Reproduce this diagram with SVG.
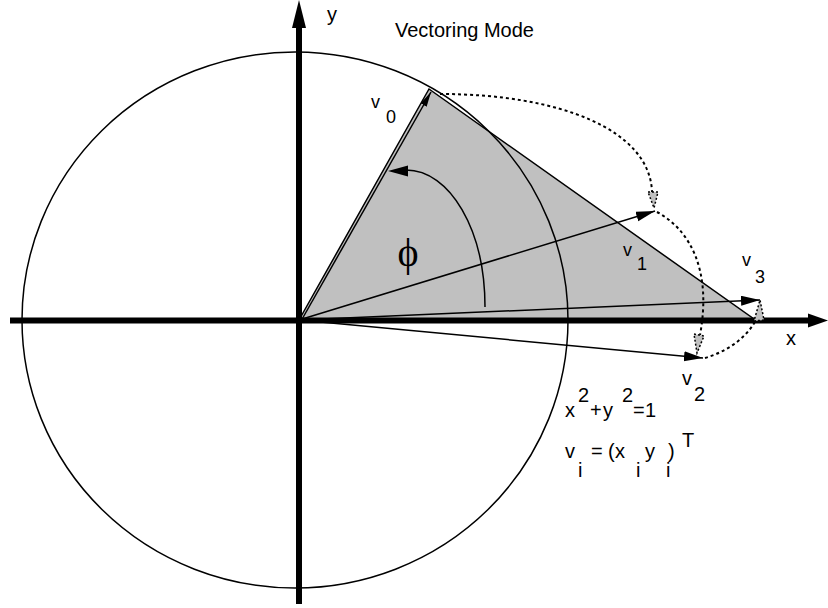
<svg xmlns="http://www.w3.org/2000/svg" width="828" height="608" viewBox="0 0 828 608">
<style>
text{font-family:"Liberation Sans",Arial,sans-serif;fill:#000}
.lbl{font-size:18px}
.eq{font-size:20px}
.vec{stroke:#000;stroke-width:1.5;fill:none}
.dot{stroke:#000;stroke-width:2;fill:none;stroke-dasharray:3 3}
.dhead{fill:#c0c0c0;stroke:#000;stroke-width:1.5;stroke-dasharray:2 2}
.axis{stroke:#000;stroke-width:6;fill:none}
</style>
<defs>
<marker id="ah" markerUnits="userSpaceOnUse" markerWidth="20" markerHeight="12" refX="19" refY="5" orient="auto">
<path d="M0,0 L19,5 L0,10 z" fill="#000"/>
</marker>
<marker id="ah0" markerUnits="userSpaceOnUse" markerWidth="16" markerHeight="8" refX="15" refY="3.5" orient="auto">
<path d="M0,0 L15,3.5 L0,7 z" fill="#000"/>
</marker>
</defs>
<rect width="828" height="608" fill="#fff"/>

<g id="triangle">
<polygon points="299,320 429,89 754,319" fill="#c0c0c0" stroke="#000" stroke-width="1.5" stroke-linejoin="miter"/>
</g>

<g id="unit-circle">
<ellipse cx="295" cy="320" rx="273" ry="268" fill="none" stroke="#000" stroke-width="1.5"/>
</g>

<g id="axes">
<line class="axis" x1="299" y1="26" x2="299" y2="604"/>
<polygon points="299,0 292,28 306,28" fill="#000"/>
<line class="axis" x1="10" y1="320.5" x2="810" y2="320.5" stroke-width="5.5"/>
<polygon points="828,320.5 808,313.5 808,327.5" fill="#000"/>
<text class="eq" x="327" y="21" font-size="21">y</text>
<text class="eq" x="786" y="345">x</text>
</g>

<g id="connectors">
<line id="v0" class="vec" x1="301" y1="321" x2="431" y2="92" marker-end="url(#ah0)"/>
<line id="v1" class="vec" x1="299" y1="320" x2="655" y2="211" marker-end="url(#ah)"/>
<line id="v2" class="vec" x1="299" y1="320" x2="703" y2="358" marker-end="url(#ah)"/>
<line id="v3" class="vec" x1="299" y1="320" x2="760" y2="300" marker-end="url(#ah)"/>
<path id="phi-arc" class="vec" d="M485,307 C485,230 450,170 406,170"/>
<polygon points="388,171 408,165.5 408,176.5" fill="#000"/>
<path class="dot" d="M440,94 C560,94 650,130 652,192"/>
<polygon class="dhead" points="648,192 658,192 654,208"/>
<path class="dot" d="M657,212 C690,230 712,270 700,335"/>
<polygon class="dhead" points="694,334 704,336 697,353"/>
<path class="dot" d="M705,358 C725,352 745,340 756,320"/>
<polygon class="dhead" points="754,321 764,320 760,300"/>
</g>

<g id="labels">
<text x="395" y="37" font-size="20">Vectoring Mode</text>
<text class="lbl" x="371" y="108">v</text>
<text class="lbl" x="386" y="123">0</text>
<text class="lbl" x="623" y="256">v</text>
<text class="lbl" x="637" y="270">1</text>
<text class="lbl" x="742" y="266">v</text>
<text class="lbl" x="755" y="283">3</text>
<text class="eq" x="682" y="385">v</text>
<text class="eq" x="694" y="401">2</text>
<text x="408" y="266" font-size="40" text-anchor="middle" style="font-family:'Liberation Serif','DejaVu Serif',serif">ϕ</text>
</g>

<g id="equations" class="eq">
<text class="eq" x="565" y="417">x</text>
<text class="eq" x="578" y="402">2</text>
<text class="eq" x="590" y="417">+</text>
<text class="eq" x="603" y="417">y</text>
<text class="eq" x="622" y="402">2</text>
<text class="eq" x="633" y="417">=</text>
<text class="eq" x="645" y="417">1</text>
<text class="eq" x="565" y="458">v</text>
<text class="eq" x="578" y="477">i</text>
<text class="eq" x="591" y="458">=</text>
<text class="eq" x="608" y="458">(</text>
<text class="eq" x="615" y="458">x</text>
<text class="eq" x="636" y="477">i</text>
<text class="eq" x="645" y="458">y</text>
<text class="eq" x="666" y="477">i</text>
<text class="eq" x="668" y="458">)</text>
<text class="eq" x="682" y="447">T</text>
</g>
</svg>
